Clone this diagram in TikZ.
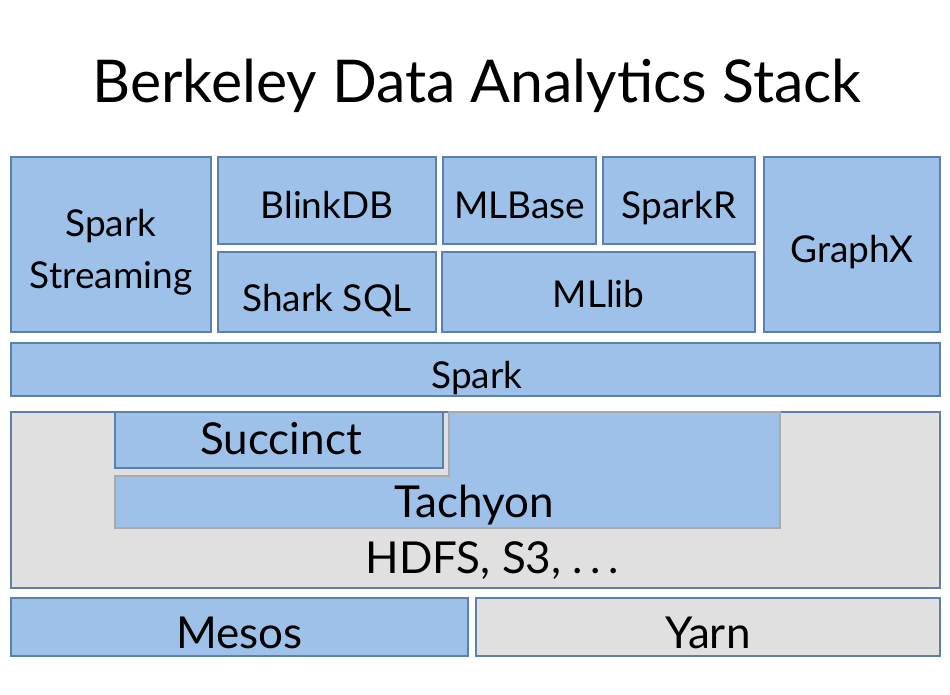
\documentclass[tikz,border=0pt]{standalone}
\usepackage{fontspec}
\setmainfont{Lato}
\definecolor{bfill}{HTML}{9DC1E9}
\definecolor{bline}{HTML}{5B80AC}
\definecolor{gfill}{HTML}{E0E0E0}
\definecolor{gline}{HTML}{AAAAAA}
\begin{document}
\begin{tikzpicture}[x=1pt,y=-1pt,
  blk/.style={draw=bline,fill=bfill,line width=1.3pt,inner sep=0pt,outer sep=0pt,anchor=north west},
  gblk/.style={blk,fill=gfill},
  lbl/.style={anchor=base,inner sep=0pt,font=\fontsize{37}{44}\selectfont},
  lblb/.style={lbl,font=\fontsize{44}{52}\selectfont}]
\useasboundingbox (0,0) rectangle (950,694);
\node[anchor=base,inner sep=0pt,font=\fontsize{59}{68}\selectfont] (title) at (477,102) {Berkeley Data Analytics Stack};
% top row
\node[blk,minimum width=200pt,minimum height=175pt] (ssb) at (11,157) {};
\node[blk,minimum width=218pt,minimum height=87pt] (blb) at (218,157) {};
\node[blk,minimum width=218pt,minimum height=80pt] (shb) at (218,252) {};
\node[blk,minimum width=153pt,minimum height=87pt] (mbb) at (443,157) {};
\node[blk,minimum width=152pt,minimum height=87pt] (srb) at (603,157) {};
\node[blk,minimum width=313pt,minimum height=80pt] (mlb) at (442,252) {};
\node[blk,minimum width=176pt,minimum height=175pt] (gxb) at (764,157) {};
\node[blk,minimum width=929pt,minimum height=53pt] (spb) at (11,343) {};
% storage
\node[gblk,minimum width=929pt,minimum height=176pt] (hdb) at (11,412) {};
\draw[fill=bfill,draw=gline,line width=1.3pt] (115,476) -- (449,476) -- (449,412) -- (780,412) -- (780,528) -- (115,528) -- cycle;
\node[blk,minimum width=328pt,minimum height=56pt] (scb) at (115,412) {};
% resource
\node[blk,minimum width=457pt,minimum height=58pt] (msb) at (11,598) {};
\node[gblk,minimum width=464pt,minimum height=58pt] (ynb) at (476,598) {};
% labels
\node[lbl] (ss1) at (111,236) {Spark};
\node[lbl] (ss2) at (111,288) {Streaming};
\node[lbl] (bl) at (327,218) {BlinkDB};
\node[lbl] (sh) at (327,311) {Shark SQL};
\node[lbl] (mb) at (519.5,218) {MLBase};
\node[lbl] (sr) at (679,218) {SparkR};
\node[lbl] (ml) at (598.5,307) {MLlib};
\node[lbl] (gx) at (852,262) {GraphX};
\node[lbl] (sp) at (477,388) {Spark};
\node[lblb] (sc) at (281,454) {Succinct};
\node[lblb] (ta) at (474,517) {Tachyon};
\node[lblb] (hd) at (492,573) {HDFS, S3, .\,.\,.};
\node[lblb] (ms) at (239.5,648) {Mesos};
\node[lblb] (yn) at (708,648) {Yarn};
\end{tikzpicture}
\end{document}
